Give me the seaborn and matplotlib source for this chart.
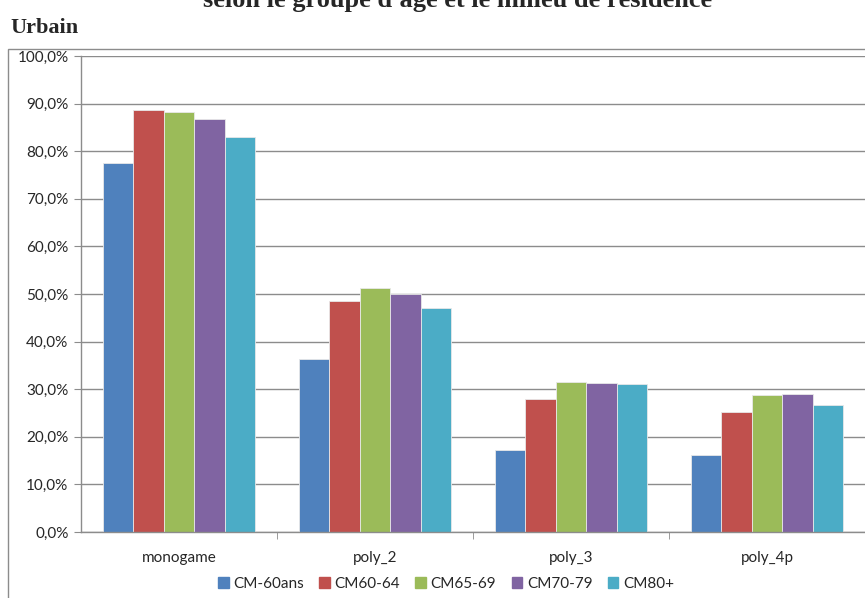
import pandas as pd
import numpy as np
import matplotlib
matplotlib.use("Agg")
import matplotlib.pyplot as plt
import seaborn as sns
from matplotlib.ticker import FuncFormatter, FixedLocator
from matplotlib.patches import Rectangle

# Data (% of Urbain population)
categories = ["monogame", "poly_2", "poly_3", "poly_4p"]
groups = ["CM-60ans", "CM60-64", "CM65-69", "CM70-79", "CM80+"]
cm_60ans = [77.5, 36.3, 17.2, 16.2]
cm60_64 = [88.7, 48.5, 27.9, 25.2]
cm65_69 = [88.2, 51.3, 31.5, 28.8]
cm70_79 = [86.8, 50.0, 31.3, 29.0]
cm80p = [83.0, 47.1, 31.1, 26.7]
colors = ["#4F81BD", "#C0504D", "#9BBB59", "#8064A2", "#4BACC6"]

series = [cm_60ans, cm60_64, cm65_69, cm70_79, cm80p]
rows = []
for g, vals in zip(groups, series):
    for c, v in zip(categories, vals):
        rows.append({"cat": c, "groupe": g, "val": v})
df = pd.DataFrame(rows)

sns.set_style("white")
plt.rcParams["font.family"] = ["Lato", "DejaVu Sans"]

fig = plt.figure(figsize=(8.65, 5.98), dpi=100)
ax = fig.add_axes([81 / 865, 1 - 532 / 598, 784 / 865, 476 / 598])

sns.barplot(data=df, x="cat", y="val", hue="groupe", palette=colors, saturation=1,
            width=0.78, edgecolor="#e8e8e8", linewidth=0.6, ax=ax)

ax.set_ylim(0, 100)
ax.set_xlim(-0.5, 3.5)
ax.set_yticks(np.arange(0, 101, 10))
ax.yaxis.set_major_formatter(FuncFormatter(lambda v, p: f"{v:.1f}%".replace(".", ",")))
ax.yaxis.grid(True, color="#8c8c8c", linewidth=1)
ax.set_axisbelow(True)
ax.set_xlabel("")
ax.set_ylabel("")
for s in ["top", "right"]:
    ax.spines[s].set_visible(False)
for s in ["left", "bottom"]:
    ax.spines[s].set_color("#8c8c8c")
    ax.spines[s].set_linewidth(1)
ax.tick_params(axis="y", left=True, length=5, color="#8c8c8c", labelsize=11, pad=4)
ax.tick_params(axis="x", bottom=False, labelsize=11, pad=10)
ax.xaxis.set_minor_locator(FixedLocator([0.5, 1.5, 2.5]))
ax.tick_params(axis="x", which="minor", bottom=True, length=5, color="#8c8c8c")

ax.get_legend().remove()
handles = [plt.Rectangle((0, 0), 1, 1, color=c) for c in colors]
fig.legend(handles, groups, loc="center", bbox_to_anchor=(446 / 865, 1 - 584 / 598),
           ncol=5, frameon=False, fontsize=11, handlelength=0.7, handleheight=0.7,
           handletextpad=0.3, columnspacing=1.0)

# chart frame
fig.patches.append(Rectangle((8 / 865, -0.1), 1.2, 1 - 49 / 598 + 0.1, transform=fig.transFigure,
                             fill=False, edgecolor="#8c8c8c", linewidth=1))

fig.text(10 / 865, 1 - 28 / 598, "Urbain", family="Liberation Serif", weight="bold",
         fontsize=16, va="center", ha="left")
fig.text(458 / 865, 1 - 1 / 598, "selon le groupe d'âge et le milieu de résidence",
         family="Liberation Serif", weight="bold", fontsize=19, va="center", ha="center")

fig.savefig("out.png", dpi=100)
